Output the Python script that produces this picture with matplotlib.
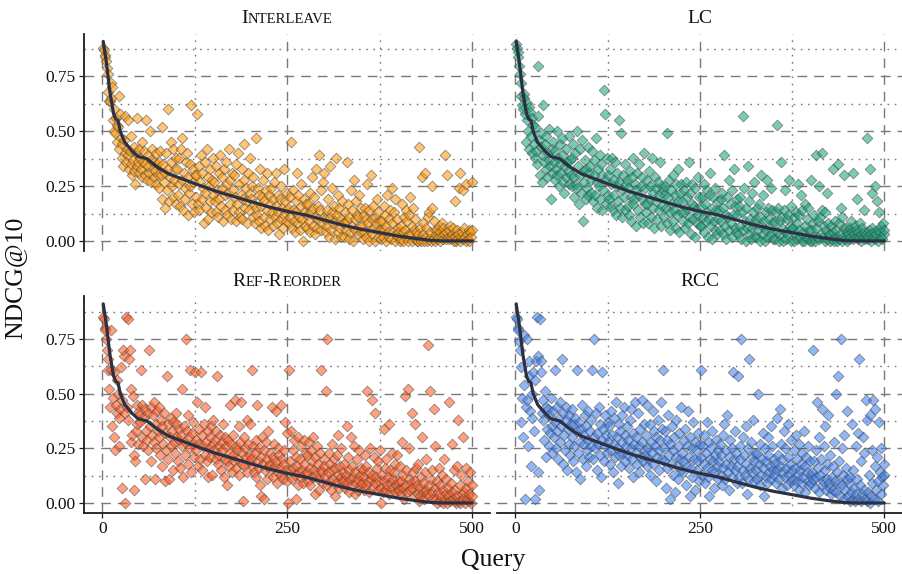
import numpy as np
import matplotlib
matplotlib.use("Agg")
import matplotlib.pyplot as plt
from matplotlib.ticker import FixedLocator, FormatStrFormatter
from matplotlib.offsetbox import TextArea, HPacker, AnnotationBbox

plt.rcParams['font.family'] = ['Liberation Serif', 'DejaVu Serif']

# ---------------- data ----------------
panel_titles = ["Interleave", "LC", "Ref-Reorder", "RCC"]
panel_colors = ["#FF9A10", "#1CA67E", "#FF5E24", "#4483EE"]

x_ticks = [0, 250, 500]
x_tick_labels = ["0", "250", "500"]
y_ticks = [0.0, 0.25, 0.5, 0.75]

# baseline (sorted) NDCG@10 curve, same in every panel
baseline_query = [1, 5, 10, 15, 18, 21, 24, 30, 40, 48, 60, 75, 90, 110, 130, 155, 180,
                  200, 225, 250, 275, 300, 325, 350, 375, 400, 425, 445, 460, 500]
baseline_ndcg = [0.91, 0.82, 0.68, 0.58, 0.555, 0.55, 0.50, 0.45, 0.41, 0.385, 0.375, 0.335,
                 0.305, 0.28, 0.255, 0.225, 0.20, 0.18, 0.155, 0.135, 0.118, 0.095, 0.072,
                 0.053, 0.038, 0.022, 0.01, 0.002, 0.0, 0.0]

# per-query NDCG@10 of each method (in hundredths), queries in baseline order
interleave_pct = [
    88,87,85,84,82,79,76,68,64,64,72,65,70,55,60,50,49,56,53,45,52,42,66,58,47,
    44,38,34,46,40,57,36,42,39,55,33,41,35,48,30,37,43,32,26,40,34,56,36,31,42,
    38,33,29,45,36,41,30,35,55,28,39,34,31,50,37,27,42,33,29,36,32,40,26,35,30,
    36,24,41,30,19,52,35,27,15,31,40,23,60,33,18,29,45,36,25,20,42,28,33,17,38,
    33,21,38,26,16,42,28,47,14,31,24,19,36,40,12,29,22,35,25,62,17,33,27,13,30,
    30,20,58,17,34,14,27,39,19,31,24,8,36,22,15,42,29,10,25,33,18,13,28,38,21,
    27,18,13,34,23,11,31,19,39,16,24,29,9,33,21,14,36,26,12,22,42,17,28,10,31,
    23,14,30,20,9,35,17,40,13,26,11,21,33,10,19,28,44,15,24,8,18,31,14,22,38,
    19,25,11,29,17,8,47,15,12,24,9,21,33,16,6,20,28,11,18,7,23,31,14,5,21,
    17,10,24,13,19,7,27,11,16,31,8,21,13,3,19,10,25,15,6,33,12,18,9,22,14,
    15,8,20,11,45,6,14,23,9,4,18,13,31,8,21,11,5,16,26,10,0,19,13,7,17,
    12,6,17,9,22,4,13,29,7,15,20,3,11,33,6,16,10,39,14,5,23,8,27,11,31,
    10,4,14,7,19,2,11,34,5,13,24,8,16,1,9,38,12,4,21,15,6,10,2,18,8,
    8,2,13,5,36,9,17,1,11,4,23,7,14,0,28,10,5,18,12,3,11,21,7,15,4,
    7,1,12,4,15,2,10,26,8,0,14,5,30,10,3,16,6,0,11,8,19,2,13,5,9,
    5,1,9,2,16,5,12,0,7,21,4,10,2,14,1,24,8,4,13,0,19,3,10,2,6,
    4,0,7,1,17,4,0,11,5,14,2,9,0,12,3,20,3,7,0,15,5,1,10,4,0,
    3,0,43,1,6,0,29,3,8,0,31,2,6,0,11,1,13,4,0,25,15,1,9,5,0,
    3,1,5,2,7,0,4,2,8,1,6,3,39,1,4,30,2,5,1,7,2,3,1,6,0,
    2,18,0,5,1,3,24,0,31,2,4,1,23,6,2,0,26,3,1,5,0,4,2,27,5,
]

lc_pct = [
    90,88,86,84,80,76,72,66,62,60,67,65,58,45,55,63,50,42,61,59,48,40,56,53,44,
    52,38,41,35,57,80,46,30,49,43,27,39,62,36,44,33,48,29,40,37,51,34,19,42,31,
    45,36,28,41,33,50,30,38,25,44,35,31,47,27,39,22,34,42,29,36,32,48,26,37,30,
    38,25,44,29,20,40,26,50,24,34,17,42,30,22,46,32,9,27,37,19,33,24,43,21,31,
    34,22,28,41,18,30,37,21,47,27,15,33,25,39,19,35,14,30,23,69,58,28,17,38,21,
    30,19,33,16,26,38,14,28,21,36,12,25,31,18,55,27,15,49,23,11,30,20,35,14,26,
    28,16,24,12,32,20,9,29,17,38,19,26,7,23,31,14,35,21,11,25,19,29,8,40,17,
    24,13,28,17,8,32,19,25,11,38,15,22,6,29,18,24,10,27,14,21,36,7,25,16,23,
    21,11,25,15,49,8,20,28,13,5,23,17,9,30,14,21,6,26,12,33,18,4,22,13,26,
    18,9,23,13,6,27,15,20,8,36,11,22,3,17,26,10,16,2,24,14,8,29,12,20,7,
    16,7,20,11,26,4,17,9,23,13,2,21,10,31,7,15,1,20,9,24,5,14,3,18,10,
    14,5,19,9,22,3,15,39,7,12,1,20,11,28,5,17,8,23,2,12,33,6,16,4,19,
    12,3,16,7,20,1,13,57,5,24,9,0,15,6,34,3,18,10,1,22,6,13,8,27,2,
    10,2,15,5,17,0,11,30,7,3,21,9,0,13,5,28,2,15,10,6,24,3,14,1,9,
    8,1,13,4,53,15,0,9,3,36,11,6,0,14,4,23,1,10,12,3,28,7,16,0,6,
    6,0,11,3,13,1,8,26,5,12,2,21,0,14,4,0,17,7,2,10,1,15,5,0,28,
    5,0,8,2,12,0,39,6,2,9,25,1,11,3,14,40,2,7,0,13,5,22,1,8,3,
    3,0,7,1,33,4,0,9,2,5,0,35,1,8,3,15,0,11,2,6,30,1,6,0,4,
    3,1,6,2,9,4,1,31,3,7,2,5,19,1,4,2,8,3,0,6,2,14,4,1,3,
    2,47,1,5,33,3,0,22,6,2,4,1,25,3,18,5,0,13,4,2,7,1,8,3,5,
]

ref_reorder_pct = [
    85,84,80,79,75,70,66,61,52,44,79,61,35,48,60,30,24,45,56,41,50,26,39,43,62,
    47,7,70,67,0,41,85,44,84,38,66,70,52,28,31,49,6,22,19,33,45,36,27,42,40,
    37,61,30,45,26,39,11,43,33,29,41,24,70,35,44,19,31,40,28,46,11,36,25,42,33,
    30,44,22,38,17,35,27,41,10,32,24,58,36,20,11,30,39,26,33,15,37,28,23,41,30,
    36,19,29,34,16,31,52,26,12,35,28,22,75,33,18,40,30,25,61,14,32,27,37,21,60,
    29,24,46,17,34,27,20,60,31,15,26,36,22,44,28,19,33,12,25,30,21,35,13,27,38,
    24,29,20,33,58,18,26,22,31,15,28,24,36,12,30,20,26,19,8,29,17,45,23,27,14,
    22,31,19,47,26,16,24,20,35,13,28,46,18,23,1,30,17,25,21,38,14,27,19,36,22,
    20,61,17,26,14,23,29,12,45,19,25,16,8,21,3,30,18,24,2,15,28,20,11,33,17,
    18,23,15,44,21,12,27,17,42,19,9,25,14,22,16,45,13,20,11,24,18,37,15,32,10,
    0,61,15,19,33,11,24,16,29,13,2,21,17,8,30,14,20,12,26,15,9,29,18,13,23,
    14,22,10,28,16,8,24,19,12,30,15,4,21,13,26,11,18,6,23,15,61,14,9,20,17,
    12,51,8,75,14,23,10,18,6,15,27,11,20,3,16,9,22,13,31,7,17,12,25,10,14,
    10,18,7,13,35,9,21,5,15,11,30,8,17,12,26,4,14,9,20,11,6,24,13,8,16,
    9,15,6,12,22,8,17,51,10,14,5,25,11,47,13,7,21,9,41,12,16,6,19,10,24,
    7,0,13,5,34,10,16,6,20,8,12,36,4,15,9,23,7,11,14,5,18,8,22,10,6,
    6,17,4,10,28,7,13,2,49,8,15,5,52,11,25,6,9,41,7,14,3,36,10,16,8,
    4,18,1,7,3,12,30,5,9,2,14,6,20,4,72,3,8,51,11,5,15,2,43,7,26,
    2,10,0,5,16,1,8,3,13,0,6,20,2,4,11,0,7,3,46,1,9,5,27,2,15,
    1,6,0,17,3,38,1,8,0,13,4,2,30,5,0,16,7,2,10,1,4,14,0,8,3,
]

rcc_pct = [
    85,84,80,79,74,70,62,37,48,30,54,77,2,44,75,47,26,58,65,42,17,50,39,60,33,
    2,56,65,85,67,14,6,84,65,60,41,47,38,29,51,44,21,34,43,26,40,32,48,35,23,
    42,30,37,61,25,44,33,20,39,46,28,35,66,18,41,31,24,38,44,15,34,27,40,22,36,
    30,43,19,36,26,39,14,33,61,23,37,28,11,34,45,20,31,27,40,17,35,24,29,42,21,
    33,26,38,61,20,30,75,25,41,15,32,27,44,22,36,12,29,60,34,19,40,26,31,23,37,
    28,35,18,42,24,31,14,39,27,21,46,30,25,9,36,22,33,17,40,28,23,44,19,31,26,
    35,22,29,16,38,25,43,20,32,12,27,46,23,30,18,41,26,14,34,21,28,47,19,36,24,
    22,31,17,45,25,20,36,13,28,23,42,18,33,26,10,30,21,38,24,15,29,46,20,34,61,
    25,19,33,7,29,16,40,22,2,27,18,35,13,24,30,5,21,38,17,26,11,32,20,44,15,
    23,14,29,19,34,8,26,17,42,21,3,30,16,25,12,37,20,28,6,24,15,32,19,10,27,
    21,61,13,26,18,31,9,23,16,37,12,28,3,20,25,15,33,19,7,22,14,29,17,24,11,
    19,27,13,22,8,31,16,36,11,24,18,40,14,21,6,29,17,25,12,60,20,33,15,23,9,
    17,58,12,26,20,75,9,15,30,22,13,35,18,4,25,11,66,16,28,14,21,38,10,19,23,
    15,11,23,50,18,8,27,13,20,32,16,3,25,12,19,9,30,22,14,17,35,11,26,15,20,
    13,18,9,39,15,22,11,43,17,27,7,20,14,33,12,25,16,8,21,36,13,18,10,29,15,
    11,24,8,16,31,10,20,13,6,27,15,18,9,23,12,33,17,5,21,14,10,26,8,19,13,
    9,14,70,11,19,7,24,12,46,16,5,30,13,20,8,43,10,26,15,35,6,18,11,40,9,
    7,22,4,12,17,6,28,10,50,5,14,58,9,19,3,75,25,8,13,2,31,6,16,11,42,
    3,9,1,12,5,36,2,15,7,1,26,4,11,32,2,66,8,1,19,4,30,6,23,2,47,
    1,38,5,13,0,40,3,24,9,47,2,17,43,6,21,1,10,37,14,4,25,12,8,18,13,
]

panel_values = [interleave_pct, lc_pct, ref_reorder_pct, rcc_pct]

# ---------------- layout ----------------
W, H = 902, 574
fig = plt.figure(figsize=(W / 100, H / 100), dpi=100)

def px_axes(left, right, top, bottom):
    return fig.add_axes([left / W, 1 - bottom / H, (right - left) / W, (bottom - top) / H])

axes = [
    px_axes(84, 490, 33.5, 251),
    px_axes(497, 902, 33.5, 251),
    px_axes(84, 490, 296, 513),
    px_axes(497, 902, 296, 513),
]

GRID = "#7a7a7a"
INK = "#1c1c1c"
LINE = "#2B3142"


def smallcaps_title(ax, text, size=13.5):
    runs = []
    for ch in text:
        small = ch.islower()
        if runs and runs[-1][1] == small:
            runs[-1][0] += ch
        else:
            runs.append([ch, small])
    kids = [TextArea(s.upper() if sm else s,
                     textprops=dict(fontsize=size * 0.76 if sm else size, color="#111111"))
            for s, sm in runs]
    box = HPacker(children=kids, align="baseline", pad=0, sep=0)
    ab = AnnotationBbox(box, (0.5, 1.0), xycoords="axes fraction", xybox=(0, 4.5),
                        boxcoords="offset points", frameon=False,
                        box_alignment=(0.5, 0.0), pad=0)
    ax.add_artist(ab)


for i, ax in enumerate(axes):
    vals = np.array(panel_values[i]) / 100.0
    q = np.arange(1, len(vals) + 1)
    ax.set_xlim(-25, 524)
    ax.set_ylim(-0.046, 0.946)

    ax.xaxis.set_major_locator(FixedLocator(x_ticks))
    ax.xaxis.set_minor_locator(FixedLocator([125, 375]))
    ax.yaxis.set_major_locator(FixedLocator(y_ticks))
    ax.yaxis.set_minor_locator(FixedLocator([0.125, 0.375, 0.625, 0.875]))
    ax.set_xticklabels(x_tick_labels)
    ax.yaxis.set_major_formatter(FormatStrFormatter("%.2f"))

    ax.set_axisbelow(True)
    ax.grid(which="major", color=GRID, lw=1.0, ls=(0, (7, 5)))
    ax.grid(which="minor", color=GRID, lw=1.0, ls=(0, (1.2, 4)))

    ax.scatter(q, vals, marker="D", s=30, facecolor=panel_colors[i],
               edgecolor="#444444", linewidths=0.6, alpha=0.58, zorder=2)
    ax.plot(baseline_query, baseline_ndcg, color=LINE, lw=2.3, zorder=3,
            solid_joinstyle="round", solid_capstyle="round")

    for s in ax.spines.values():
        s.set_visible(False)
    left_col = i % 2 == 0
    bottom_row = i >= 2
    ax.tick_params(which="minor", length=0)
    ax.tick_params(which="major", direction="out", length=3.5, width=0.9, color=INK,
                   labelsize=12.5, labelcolor="#111111", pad=2.5)
    if left_col:
        ax.spines["left"].set_visible(True)
        ax.spines["left"].set_color(INK)
        ax.spines["left"].set_linewidth(1.3)
    else:
        ax.tick_params(axis="y", which="both", left=False, labelleft=False)
    if bottom_row:
        ax.spines["bottom"].set_visible(True)
        ax.spines["bottom"].set_color(INK)
        ax.spines["bottom"].set_linewidth(1.3)
    else:
        ax.tick_params(axis="x", which="both", bottom=False, labelbottom=False)

    smallcaps_title(ax, panel_titles[i], size=14)

fig.text(493 / W, 1 - 566 / H, "Query", ha="center", va="baseline", fontsize=18.5, color="#111111")
fig.text(15 / W, 1 - 278 / H, "NDCG@10", ha="center", va="center", rotation=90,
         fontsize=18.5, color="#111111")

fig.savefig("out.png", dpi=100)
